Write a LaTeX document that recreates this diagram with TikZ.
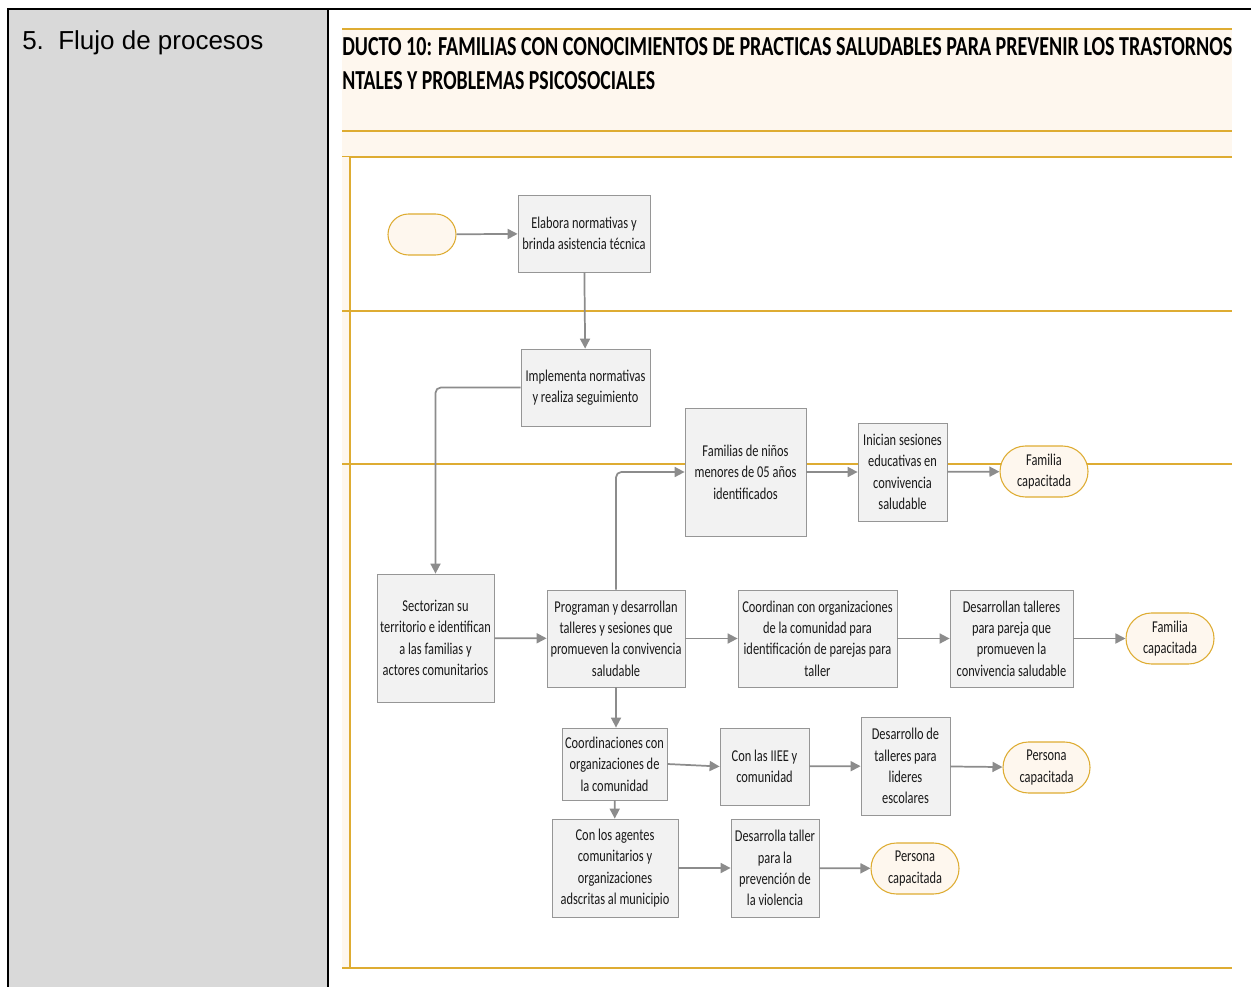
\documentclass[tikz,border=0pt]{standalone}
\usepackage{fontspec}
\setmainfont{Liberation Sans}
\newfontfamily\boxfont[FakeStretch=0.75]{Carlito}
\newfontfamily\titlefont{Carlito}
\usetikzlibrary{arrows.meta,shadows,shapes.misc}
\definecolor{gold}{RGB}{222,172,50}
\definecolor{cream}{RGB}{254,247,238}
\definecolor{boxfill}{RGB}{242,242,242}
\definecolor{boxline}{RGB}{150,150,150}
\definecolor{arrowgrey}{RGB}{140,140,140}
\definecolor{cellgrey}{RGB}{217,217,217}
\tikzset{
  sz/.style 2 args={minimum width=#1*0.75pt, minimum height=#2*0.75pt},
  proc/.style={draw=boxline, fill=boxfill, line width=0.6pt, align=center, inner sep=0pt,
    font=\boxfont\fontsize{12.4}{16}\selectfont, text=black!90,
    drop shadow={shadow xshift=0.8pt, shadow yshift=-0.8pt, opacity=0.25, fill=black}},
  term/.style={rounded rectangle, draw=gold, fill=cream, line width=0.8pt, align=center, inner sep=0pt,
    font=\boxfont\fontsize{12.4}{16}\selectfont, text=black!90},
  flow/.style={draw=arrowgrey, line width=1.3pt, -{Triangle[length=7.5pt,width=7.5pt]}},
  lane/.style={draw=gold, line width=1.5pt},
}
\begin{document}
\begin{tikzpicture}[x=0.75pt, y=-0.75pt]
\useasboundingbox (0,0) rectangle (1251,987);
% table
\fill[cellgrey] (8,9) rectangle (328,987);
\draw[line width=2pt] (8,987) -- (8,9) -- (1251,9);
\draw[line width=2pt] (328,9) -- (328,987);
\node[anchor=base west, inner sep=0pt, font=\fontsize{19.5}{22}\selectfont] (num) at (22,50) {5.};
\node[anchor=base west, inner sep=0pt, font=\fontsize{19.5}{22}\selectfont] (lbl) at (58,50) {Flujo de procesos};
% header
\fill[cream] (342,29) rectangle (1232,157);
\draw[gold, line width=1pt] (342,29) -- (1232,29);
\draw[lane] (342,131) -- (1232,131);
\draw[lane] (342,157) -- (1232,157);
\node[anchor=base west, inner sep=0pt] (t1) at (342,56)
  {\resizebox{667.5pt}{13.5pt}{\titlefont\bfseries DUCTO 10: FAMILIAS CON CONOCIMIENTOS DE PRACTICAS SALUDABLES PARA PREVENIR LOS TRASTORNOS}};
\node[anchor=base west, inner sep=0pt] (t2) at (342,90)
  {\resizebox{234.75pt}{13.5pt}{\titlefont\bfseries NTALES Y PROBLEMAS PSICOSOCIALES}};
% pool
\fill[cream] (342,157) rectangle (350,968);
\draw[gold, line width=1.2pt] (350,157) -- (350,968);
\draw[lane] (342,311) -- (1232,311);
\draw[lane] (342,464) -- (1232,464);
\draw[lane] (342,968) -- (1232,968);
% nodes
\node[term, sz={68}{41}] (S) at (422,234.5) {};
\node[proc, sz={132}{77}] (A) at (584,233.5) {Elabora normativas y\\brinda asistencia técnica};
\node[proc, sz={129}{77}] (B) at (585.5,387.5) {Implementa normativas\\y realiza seguimiento};
\node[proc, sz={121}{128}] (C) at (745.5,472) {Familias de niños\\menores de 05 años\\identificados};
\node[proc, sz={89}{98}] (D) at (902.5,472) {Inician sesiones\\educativas en\\convivencia\\saludable};
\node[term, sz={88}{51}] (E1) at (1044,471.5) {Familia\\capacitada};
\node[proc, sz={117}{128}] (F) at (435.5,638) {Sectorizan su\\territorio e identifican\\a las familias y\\actores comunitarios};
\node[proc, sz={138}{97}] (G) at (616,638.5) {Programan y desarrollan\\talleres y sesiones que\\promueven la convivencia\\saludable};
\node[proc, sz={159}{97}] (H) at (817.5,638.5) {Coordinan con organizaciones\\de la comunidad para\\identificación de parejas para\\taller};
\node[proc, sz={123}{97}] (I) at (1011.5,638.5) {Desarrollan talleres\\para pareja que\\promueven la\\convivencia saludable};
\node[term, sz={88}{51}] (E2) at (1170,638.5) {Familia\\capacitada};
\node[proc, sz={105}{72}] (J) at (614.5,764) {Coordinaciones con\\organizaciones de\\la comunidad};
\node[proc, sz={89}{77}] (K) at (764.5,766.5) {Con las IIEE y\\comunidad};
\node[proc, sz={89}{98}] (L) at (905.5,766) {Desarrollo de\\talleres para\\lideres\\escolares};
\node[term, sz={87}{51}] (E3) at (1046.5,767.5) {Persona\\capacitada};
\node[proc, sz={126}{98}] (M) at (615,868) {Con los agentes\\comunitarios y\\organizaciones\\adscritas al municipio};
\node[proc, sz={88}{98}] (N) at (775,868) {Desarrolla taller\\para la\\prevención de\\la violencia};
\node[term, sz={88}{51}] (E4) at (915,868.5) {Persona\\capacitada};
% connectors
\draw[flow] (S) -- (A);
\draw[flow] (A) -- (B);
\draw[flow, rounded corners=4pt] (B.west) -| (F.north);
\draw[flow, rounded corners=4pt] (G.north) |- (C.west);
\draw[flow] (C) -- (D);
\draw[flow] (D) -- (E1);
\draw[flow] (F) -- (G);
\draw[flow] (G) -- (H);
\draw[flow] (H) -- (I);
\draw[flow] (I) -- (E2);
\draw[flow] (G.south) -- (G.south |- J.north);
\draw[flow] (J.east) -- (K.west);
\draw[flow] (K) -- (L);
\draw[flow] (L) -- (E3);
\draw[flow] (J) -- (M);
\draw[flow] (M) -- (N);
\draw[flow] (N) -- (E4);
\end{tikzpicture}
\end{document}
